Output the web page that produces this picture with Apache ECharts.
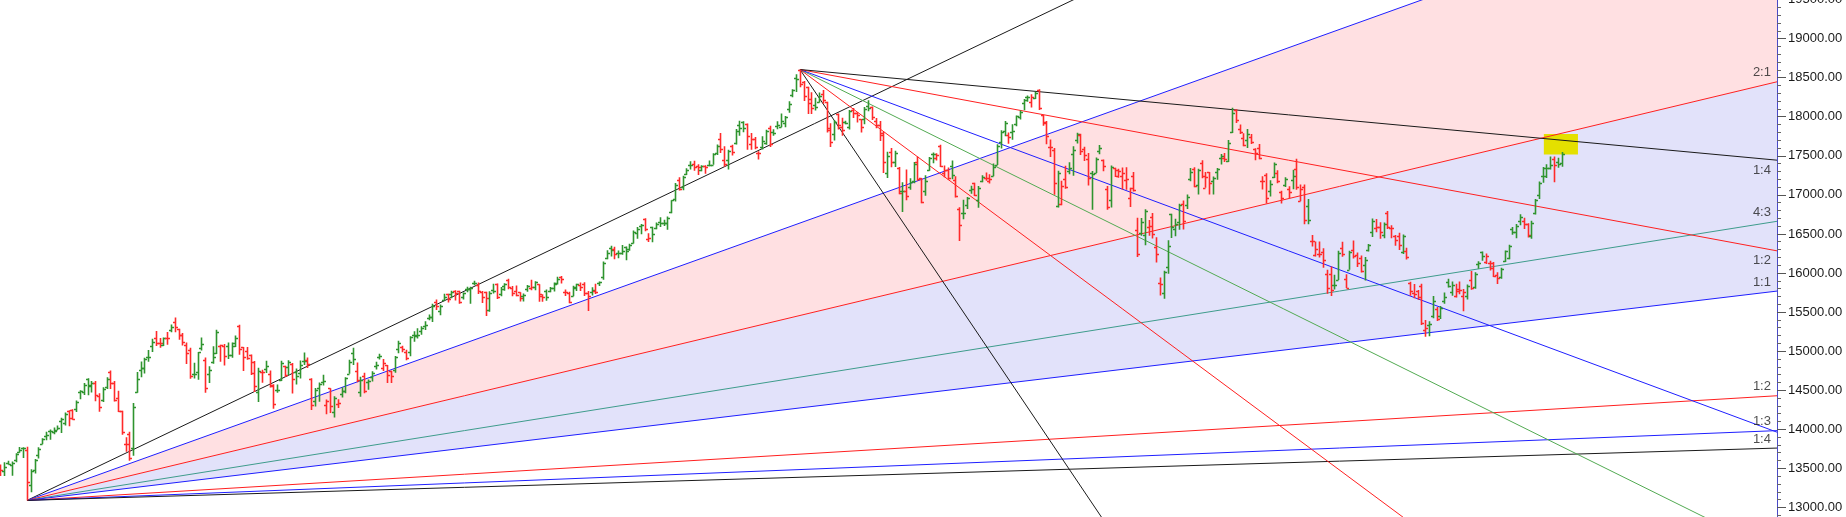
<!DOCTYPE html>
<html><head><meta charset="utf-8">
<script src="https://cdn.jsdelivr.net/npm/echarts@6/dist/echarts.min.js"></script>
<style>html,body{margin:0;padding:0;background:#fff;overflow:hidden;width:1846px;height:517px;position:relative}
#c{position:absolute;left:0;top:-7px;width:1846px;height:560px}</style>
</head><body><div id="c"></div>
<script>
// Daily OHLC bars [open, high, low, close], one named list per month
const dec2020 = [
[13488,13548,13403,13478],[13464,13579,13402,13514],[13571,13597,13550,13558],[13547,13587,13406,13567],
[13603,13692,13579,13682],[13713,13773,13699,13740],[13764,13771,13634,13761],[13741,13778,13090,13328],
[13292,13487,13193,13466],[13473,13619,13433,13601],[13672,13771,13626,13749],[13815,13885,13810,13873],
[13910,13967,13860,13932],[13980,13997,13865,13982],[13970,14024,13937,13982]];
const jan2021 = [
[13997,14049,13991,14019],[14104,14148,13954,14133],[14076,14215,14049,14199],[14240,14244,14039,14146],
[14253,14256,14123,14137],[14258,14367,14221,14347],[14474,14498,14383,14485],[14473,14591,14438,14563],
[14639,14654,14435,14564],[14550,14617,14471,14595],[14594,14617,14358,14433],[14422,14460,14223,14281],
[14371,14539,14350,14521],[14538,14666,14517,14644],[14730,14753,14517,14590],[14590,14619,14357,14372],
[14401,14492,14222,14239],[14237,14237,13929,13968],[13810,13898,13713,13818],[13946,13967,13596,13635]];
const feb2021 = [
[13758,14336,13662,14281],[14482,14732,14469,14648],[14755,14869,14665,14790],[14789,14914,14715,14895],
[14919,15015,14864,14924],[15064,15159,14990,15116],[15164,15257,15065,15109],[15108,15169,15042,15107],
[15082,15174,15065,15173],[15167,15244,15081,15163],[15271,15340,15243,15315],[15371,15431,15242,15313],
[15282,15288,15145,15209],[15209,15232,15072,15119],[15075,15111,14837,14982],[15015,15044,14646,14676],
[14707,14850,14651,14708],[14730,14990,14635,14983],[15036,15176,15008,15097],[14888,14920,14468,14529]];
const mar2021 = [
[14702,14807,14593,14762],[14865,15064,14840,14919],[14982,15273,14962,15246],[15064,15081,14864,15081],
[15064,15093,14816,14938],[15062,15112,14898,14956],[14957,15111,14914,15099],[15062,15201,15053,15174],
[15320,15337,14954,15031],[15050,15052,14745,14930],[14996,15052,14890,14910],[14946,14956,14696,14721],
[14855,14875,14478,14557],[14471,14788,14350,14744],[14737,14763,14597,14736],[14769,14878,14720,14814],
[14712,14752,14536,14549],[14570,14575,14264,14324],[14506,14572,14469,14507],[14628,14876,14617,14845],
[14811,14813,14670,14691]];
const apr2021 = [
[14798,14883,14693,14867],[14837,14849,14459,14638],[14737,14779,14573,14684],[14716,14879,14649,14819],
[14875,14984,14822,14873],[14882,14919,14785,14835],[14644,14652,14248,14310],[14364,14528,14293,14504],
[14522,14598,14353,14581],[14599,14697,14559,14617],[14306,14382,14191,14359],[14526,14526,14207,14296],
[14219,14424,14152,14406],[14326,14384,14273,14341],[14449,14539,14408,14485],[14493,14667,14461,14653],
[14710,14890,14710,14865],[14979,15044,14824,14895],[14748,14855,14602,14631]];
const may2021 = [
[14481,14673,14417,14634],[14688,14723,14461,14496],[14604,14637,14506,14618],[14668,14743,14611,14725],
[14816,14864,14765,14823],[14928,14967,14892,14942],[14789,14900,14747,14851],[14824,14824,14592,14697],
[14749,14749,14591,14678],[14756,14938,14725,14923],[15026,15133,14973,15108],[15058,15070,14985,15030],
[14988,15018,14884,14906],[14987,15189,14935,15175],[15211,15256,15120,15197],[15211,15293,15163,15208],
[15257,15319,15211,15301],[15321,15384,15272,15337],[15421,15469,15394,15436],[15437,15606,15374,15583]];
const jun2021 = [
[15629,15660,15528,15575],[15520,15597,15459,15576],[15656,15734,15650,15690],[15725,15733,15622,15670],
[15725,15773,15678,15751],[15774,15778,15649,15740],[15766,15774,15606,15635],[15692,15752,15660,15738],
[15796,15823,15753,15799],[15791,15823,15606,15812],[15867,15901,15842,15869],[15847,15880,15730,15768],
[15758,15769,15616,15691],[15756,15760,15450,15683],[15525,15765,15505,15746],[15783,15862,15739,15773],
[15862,15866,15667,15687],[15737,15821,15702,15790],[15839,15870,15772,15860],[15916,15925,15792,15815],
[15807,15835,15704,15748],[15776,15839,15702,15721]];
const jul2021 = [
[15755,15755,15635,15680],[15705,15738,15635,15722],[15793,15845,15761,15834],[15813,15914,15779,15818],
[15819,15893,15779,15880],[15856,15856,15632,15728],[15712,15729,15632,15690],[15766,15789,15644,15692],
[15766,15820,15753,15812],[15808,15877,15762,15854],[15872,15952,15852,15924],[15955,15962,15866,15923],
[15754,15789,15707,15752],[15746,15760,15613,15632],[15708,15836,15701,15824],[15812,15862,15771,15857],
[15842,15878,15769,15824],[15860,15882,15707,15746],[15747,15769,15513,15709],[15762,15817,15712,15778],
[15776,15862,15732,15763]];
const aug2021 = [
[15874,15892,15835,15885],[15951,16146,15914,16130],[16195,16290,16177,16258],[16324,16349,16212,16295],
[16304,16336,16176,16238],[16258,16288,16190,16258],[16262,16359,16234,16280],[16337,16338,16162,16282],
[16303,16375,16286,16364],[16385,16543,16376,16529],[16518,16589,16438,16563],[16600,16628,16495,16614],
[16691,16701,16535,16569],[16440,16510,16396,16450],[16592,16592,16395,16496],[16580,16647,16560,16625],
[16648,16712,16589,16634],[16642,16683,16603,16636],[16642,16722,16554,16705],[16775,16932,16764,16931],
[16947,17153,16915,17132]];
const sep2021 = [
[17185,17226,17055,17076],[17095,17245,17059,17234],[17262,17341,17255,17324],[17376,17430,17326,17377],
[17401,17437,17308,17362],[17375,17393,17255,17354],[17312,17379,17302,17369],[17363,17378,17269,17355],
[17380,17439,17367,17380],[17387,17532,17386,17519],[17540,17644,17510,17630],[17709,17792,17537,17585],
[17443,17622,17361,17397],[17450,17578,17326,17562],[17630,17641,17503,17546],[17670,17843,17646,17822],
[17897,17948,17757,17853],[17932,17943,17802,17855],[17906,17913,17576,17748],[17657,17792,17577,17711],
[17718,17742,17585,17618]];
const oct2021 = [
[17531,17557,17452,17532],[17615,17750,17581,17691],[17661,17833,17640,17822],[17861,17884,17613,17646],
[17810,17840,17757,17790],[17887,17941,17840,17895],[17867,18041,17865,17946],[17916,18008,17864,17991],
[18097,18197,18051,18161],[18272,18351,18248,18339],[18500,18543,18315,18478],[18602,18604,18378,18419],
[18440,18458,18200,18267],[18382,18384,18034,18178],[18230,18314,18034,18115],[18145,18242,18081,18125],
[18185,18311,18182,18268],[18295,18342,18167,18210],[18188,18190,17799,17857],[17834,17915,17613,17671]];
const nov2021 = [
[17783,17954,17697,17929],[18030,18042,17836,17889],[17874,17988,17757,17829],[17935,17947,17904,17916],
[17867,18087,17836,18068],[18084,18112,17983,18044],[18049,18061,17925,18017],[17967,17971,17798,17873],
[17977,18123,17905,18102],[18140,18210,18070,18109],[18127,18132,17958,17999],[17939,17983,17853,17898],
[17891,17946,17688,17765],[17796,17806,17281,17416],[17281,17553,17216,17503],[17550,17600,17354,17415],
[17417,17564,17355,17536],[17339,17355,17007,17026],[17055,17160,16782,17054],[17052,17324,16931,16983]];
const dec2021 = [
[17104,17213,17064,17167],[17183,17420,17149,17401],[17425,17490,17180,17197],[17210,17216,16891,16912],
[17044,17251,16987,17176],[17315,17484,17308,17469],[17524,17543,17405,17517],[17476,17534,17439,17512],
[17619,17640,17355,17368],[17283,17376,17225,17324],[17323,17351,17192,17221],[17373,17440,17200,17248],
[17196,17237,16966,16985],[16824,16840,16410,16614],[16773,16937,16688,16770],[16865,16971,16819,16955],
[17067,17118,17015,17073],[17150,17155,16985,17003],[16938,17112,16834,17086],[17177,17250,17162,17233],
[17220,17285,17181,17214],[17179,17264,17146,17204],[17244,17400,17238,17354]];
const jan2022 = [
[17388,17647,17383,17625],[17681,17827,17593,17805],[17820,17945,17751,17925],[17768,17797,17655,17745],
[17798,17905,17704,17812],[17913,18017,17879,18003],[17997,18081,17965,18055],[18170,18227,18082,18212],
[18257,18272,18193,18258],[18185,18286,18119,18255],[18235,18321,18228,18308],[18337,18350,18085,18113],
[18016,18023,17884,17938],[17921,17944,17648,17757],[17613,17707,17485,17617],[17575,17599,17001,17149],
[16862,17309,16837,17278],[16889,17182,16866,17110],[17208,17373,17077,17102],[17301,17417,17264,17340]];
const feb2022 = [
[17529,17622,17244,17576],[17706,17794,17658,17780],[17767,17781,17511,17560],[17591,17617,17433,17516],
[17456,17536,17119,17214],[17279,17306,16810,17266],[17279,17477,17279,17464],[17556,17639,17520,17606],
[17451,17454,17303,17375],[17077,17112,16809,16843],[16933,17375,16839,17353],[17339,17348,17230,17322],
[17237,17335,17220,17304],[17236,17351,17070,17276],[17192,17352,17066,17207],[16966,17092,16844,17092],
[17243,17294,17044,17063],[16548,16706,16204,16248],[16516,16705,16478,16658],[16481,16815,16356,16794]];
const mar2022 = [
[16593,16678,16478,16606],[16723,16769,16442,16498],[16339,16456,16133,16245],[15867,15944,15711,15863],
[15747,16028,15671,16013],[16078,16418,15990,16345],[16758,16758,16447,16594],[16557,16694,16470,16630],
[16656,16887,16555,16871],[16877,16928,16556,16663],[16876,17005,16820,16976],[17202,17345,17175,17287],
[17329,17353,17096,17118],[17120,17334,17006,17316],[17405,17443,17213,17246],[17094,17292,17091,17223],
[17289,17294,17004,17153],[17181,17235,17003,17222],[17297,17343,17193,17325],[17468,17522,17387,17498],
[17469,17535,17422,17465]];
const apr2022 = [
[17436,17703,17422,17670],[17809,18114,17792,18053],[18080,18095,17921,17957],[17842,17901,17779,17808],
[17723,17787,17623,17640],[17698,17842,17600,17784],[17741,17779,17650,17675],[17584,17597,17442,17530],
[17599,17651,17457,17476],[17183,17237,17067,17174],[17258,17275,16889,16959],[17045,17186,16979,17136],
[17234,17414,17216,17392],[17280,17314,17149,17172],[17034,17054,16889,16954],[17121,17224,17101,17201],
[17073,17110,16958,17038],[17189,17322,17072,17245],[17329,17462,17064,17103]];
const may2022 = [
[16925,17132,16917,17070],[17096,17133,16623,16678],[16854,16946,16623,16683],[16415,16485,16340,16411],
[16227,16404,16211,16302],[16248,16404,16197,16240],[16270,16318,16066,16168],[15990,16042,15736,15808],
[15986,16083,15705,15782],[15845,15978,15789,15842],[15913,16284,15911,16259],[16318,16400,16209,16241],
[15917,15985,15809,15809],[16043,16284,16043,16266],[16290,16415,16185,16215],[16225,16262,16078,16125],
[16197,16223,16006,16025],[16105,16205,15904,16171],[16296,16370,16275,16353],[16528,16696,16462,16662],
[16578,16691,16522,16585]];
const jun2022 = [
[16595,16648,16438,16523],[16481,16647,16444,16628],[16762,16794,16563,16585],[16570,16610,16444,16570],
[16469,16487,16348,16416],[16474,16514,16293,16357],[16264,16493,16244,16479],[16283,16324,16172,16202],
[15877,15887,15710,15774],[15749,15859,15678,15732],[15764,15783,15659,15692],[15833,15863,15335,15361],
[15272,15400,15183,15294],[15335,15382,15192,15350],[15455,15707,15420,15638],[15545,15565,15385,15413],
[15451,15578,15410,15557],[15647,15749,15608,15699],[15885,15927,15815,15832],[15757,15892,15710,15850],
[15701,15861,15687,15799],[15775,15890,15728,15780]];
const jul2022 = [
[15703,15794,15511,15752],[15710,15852,15661,15835],[15909,16026,15785,15810],[15818,16011,15800,15990],
[16113,16150,16054,16133],[16273,16275,16157,16220],[16136,16248,16115,16216],[16126,16158,16031,16058],
[16129,16141,15950,15967],[15977,16010,15858,15938],[15954,16067,15927,16049],[16151,16287,16142,16278],
[16187,16360,16175,16341],[16562,16588,16490,16521],[16523,16627,16445,16606],[16661,16752,16610,16720],
[16662,16706,16564,16632],[16632,16636,16455,16484],[16475,16669,16438,16642],[16774,16947,16748,16929],
[16993,17172,16947,17158]];
const aug2022 = [
[17244,17356,17154,17340],[17243,17392,17215,17345],[17349,17490,17326,17388],[17463,17490,17161,17382],
[17423,17474,17348,17398],[17402,17548,17359,17525]];

// Y axis ticks
const priceMin = 12500, priceMax = 19500, priceStep = 500;

// Gann fan from the low (bar index 7) and from the peak (bar index 211)
const upFanAnchor = [7, 13090];
const upFanUnit = 5.8;                       // points per bar for 1x1
const upFanRatios = [4, 3, 2, 4/3, 1, 1/2, 1/3, 1/4];
const upFanLabels = ['', '', '2:1', '4:3', '1:1', '1:2', '1:3', '1:4'];
const downFanAnchor = [211, 18604];
const downFanUnit = 18.0;
const downFanRatios = [4, 2, 4/3, 1, 1/2, 1/4];
const downFanLabels = ['', '', '', '', '1:2', '1:4'];
// shaded bands of the rising fan: [upper ratio, lower ratio]
const upFanBands = [[3, 2], [2, 1]];
// highlighted box: bar index range and price range
const boxBars = [407.3, 416.3];
const boxPrices = [17516, 17779];

// ---- styling / layout ----
const GREEN = '#2f942f', RED = '#ff2a2a';
const upFanColors = ['#1a1a1a', '#1f1fff', '#ff2020', '#3e9c8c', '#1f1fff', '#ff2020', '#1f1fff', '#1a1a1a'];
const downFanColors = ['#1a1a1a', '#ff2020', '#52aa52', '#1f1fff', '#ff2020', '#1a1a1a'];
const bandColors = ['#ffe0e2', '#e2e2fa'];
const X_MIN = -0.1255, X_MAX = 468.83;

const bars = [].concat(dec2020, jan2021, feb2021, mar2021, apr2021, may2021, jun2021, jul2021, aug2021,
  sep2021, oct2021, nov2021, dec2021, jan2022, feb2022, mar2022, apr2022, may2022, jun2022, jul2022, aug2022);
const barData = bars.map((b, i) => {
  const ref = i > 0 ? bars[i - 1][3] : b[0];
  return [i, b[0], b[1], b[2], b[3], b[3] >= ref ? 1 : 0];
});

function fanSeries(anchor, unit, ratios, colors, sign) {
  return ratios.map((r, k) => ({
    type: 'line', silent: true, z: 3, symbol: 'none', animation: false,
    lineStyle: { color: colors[k], width: 1 },
    data: [anchor, [X_MAX, anchor[1] + sign * r * unit * (X_MAX - anchor[0])]]
  }));
}

const labelData = [];
upFanRatios.forEach((r, k) => {
  if (upFanLabels[k]) labelData.push({ value: [X_MAX - 0.01, upFanAnchor[1] + r * upFanUnit * (X_MAX - upFanAnchor[0])], name: upFanLabels[k], label: { position: [-6, -9] } });
});
downFanRatios.forEach((r, k) => {
  if (downFanLabels[k]) labelData.push({ value: [X_MAX - 0.01, downFanAnchor[1] - r * downFanUnit * (X_MAX - downFanAnchor[0])], name: downFanLabels[k], label: { position: [-6, 10] } });
});

const chart = echarts.init(document.getElementById('c'), null, { renderer: 'canvas' });
chart.setOption({
  animation: false,
  backgroundColor: '#ffffff',
  grid: { left: 0, right: 69, top: 0, bottom: 0 },
  xAxis: { type: 'value', min: X_MIN, max: X_MAX, show: false },
  yAxis: {
    type: 'value', position: 'right', min: priceMin, max: priceMax, interval: priceStep,
    axisLine: { show: true, onZero: false, lineStyle: { color: '#4a4ac6', width: 1 } },
    axisTick: { show: true, length: 9, lineStyle: { color: '#555' } },
    minorTick: { show: true, splitNumber: 5, length: 4, lineStyle: { color: '#666' } },
    splitLine: { show: false },
    axisLabel: { margin: 11, color: '#1a1a1a', fontSize: 13, fontFamily: 'Liberation Sans, Arial, sans-serif', formatter: v => v.toFixed(2) }
  },
  series: [
    {
      type: 'custom', silent: true, z: 1, clip: true,
      data: upFanBands.map((b, k) => [upFanAnchor[0], upFanAnchor[1], k]),
      renderItem: (params, api) => {
        const k = api.value(2);
        const [ra, rb] = upFanBands[k];
        const dx = X_MAX - upFanAnchor[0];
        const p0 = api.coord(upFanAnchor);
        const pa = api.coord([X_MAX, upFanAnchor[1] + ra * upFanUnit * dx]);
        const pb = api.coord([X_MAX, upFanAnchor[1] + rb * upFanUnit * dx]);
        return { type: 'polygon', shape: { points: [p0, pa, pb] }, style: { fill: bandColors[k] } };
      }
    },
    {
      type: 'custom', silent: true, z: 2, clip: true,
      data: [[boxBars[0], boxPrices[1], boxBars[1], boxPrices[0]]],
      renderItem: (params, api) => {
        const a = api.coord([api.value(0), api.value(1)]);
        const b = api.coord([api.value(2), api.value(3)]);
        return { type: 'rect', shape: { x: a[0], y: a[1], width: b[0] - a[0], height: b[1] - a[1] }, style: { fill: '#e4e000' } };
      }
    },
    ...fanSeries(upFanAnchor, upFanUnit, upFanRatios, upFanColors, 1),
    ...fanSeries(downFanAnchor, downFanUnit, downFanRatios, downFanColors, -1),
    {
      type: 'custom', silent: true, z: 5, clip: true,
      encode: { x: 0, y: [1, 2, 3, 4] },
      data: barData,
      renderItem: (params, api) => {
        const i = api.value(0);
        const pO = api.coord([i, api.value(1)]);
        const pH = api.coord([i, api.value(2)]);
        const pL = api.coord([i, api.value(3)]);
        const pC = api.coord([i, api.value(4)]);
        const col = api.value(5) === 1 ? GREEN : RED;
        const x = Math.round(pH[0]) + 0.5;
        const yo = Math.round(pO[1]) + 0.5, yc = Math.round(pC[1]) + 0.5;
        const st = { stroke: col, lineWidth: 1.6 };
        return { type: 'group', children: [
          { type: 'line', shape: { x1: x, y1: pH[1], x2: x, y2: pL[1] }, style: st },
          { type: 'line', shape: { x1: x - 2.5, y1: yo, x2: x, y2: yo }, style: st },
          { type: 'line', shape: { x1: x, y1: yc, x2: x + 2.5, y2: yc }, style: st }
        ] };
      }
    },
    {
      type: 'scatter', silent: true, z: 6, symbolSize: 0, clip: false,
      data: labelData,
      label: { show: true, formatter: p => p.name, align: 'right', verticalAlign: 'middle', color: '#222', fontSize: 13, fontFamily: 'Liberation Sans, Arial, sans-serif' }
    }
  ]
});
</script>
</body></html>
